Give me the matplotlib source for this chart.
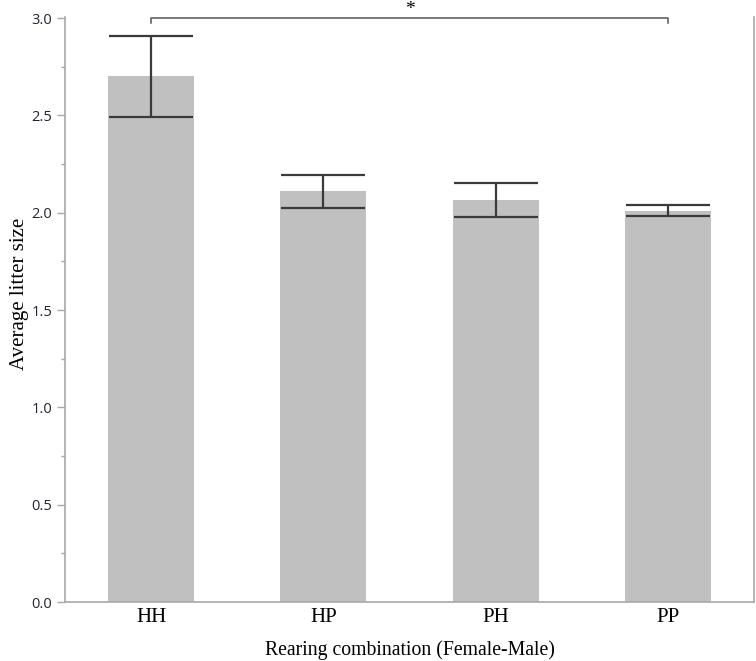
import matplotlib
matplotlib.use("Agg")
import matplotlib.pyplot as plt
from matplotlib.ticker import MultipleLocator

categories = ["HH", "HP", "PH", "PP"]
means = [2.70, 2.11, 2.065, 2.01]
errors = [0.21, 0.086, 0.088, 0.028]
yticks = [0.0, 0.5, 1.0, 1.5, 2.0, 2.5, 3.0]

fig = plt.figure(figsize=(7.56, 6.61), dpi=100)
ax = fig.add_axes([65/756, 1-602/661, (754-65)/756, (602-17)/661])

x = list(range(len(categories)))
ax.bar(x, means, width=0.5, color="#c0c0c0", zorder=1)
ax.errorbar(x, means, yerr=errors, fmt="none", ecolor="#3a3a3a",
            elinewidth=1.6, capsize=30, capthick=1.6, zorder=2)

ax.set_xlim(-0.5, 3.5)
ax.set_ylim(0, 3.0 + 3/582)
ax.set_yticks(yticks)
ax.set_yticklabels([f"{v:.1f}" for v in yticks], fontfamily="Open Sans",
                   fontsize=10.5, color="#222233")
ax.yaxis.set_minor_locator(MultipleLocator(0.25))
ax.set_xticks(x)
ax.set_xticklabels(categories, fontfamily="Liberation Serif", fontsize=15, color="black")

for s in ["left", "right", "bottom"]:
    ax.spines[s].set_color("#a8a8a8")
    ax.spines[s].set_linewidth(1.2)
ax.spines["top"].set_visible(False)
ax.tick_params(axis="y", which="major", length=6, color="#a8a8a8", width=1, pad=3)
ax.tick_params(axis="y", which="minor", length=3, color="#a8a8a8", width=1)
ax.tick_params(axis="x", length=0, pad=4)

ax.set_ylabel("Average litter size", fontfamily="Liberation Serif", fontsize=15, labelpad=2)
ax.yaxis.label.set_y(0.527)
ax.set_xlabel("Rearing combination (Female-Male)", fontfamily="Liberation Serif",
              fontsize=14.2, labelpad=10)

# significance bracket
ax.plot([0, 0, 3, 3], [2.975, 3.0, 3.0, 2.975], color="#555555", lw=1.1,
        clip_on=False, zorder=3)
ax.annotate("*", xy=(1.5, 3.0), xytext=(0, 17), textcoords="offset pixels",
            ha="center", va="top", fontsize=14, fontfamily="Liberation Serif",
            annotation_clip=False)

fig.savefig("out.png", dpi=100)
